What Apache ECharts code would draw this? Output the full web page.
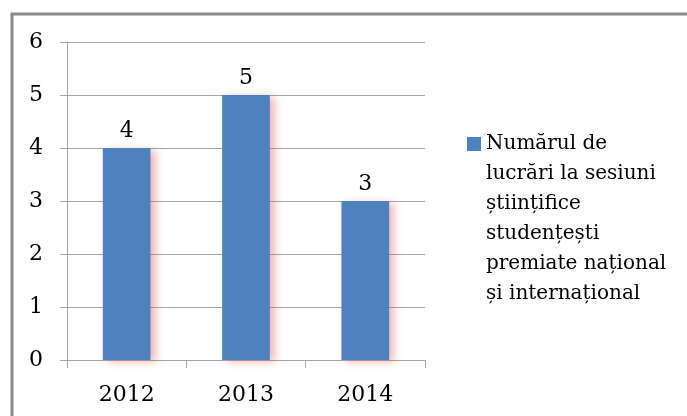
<!DOCTYPE html>
<html>
<head>
<meta charset="utf-8">
<script src="https://cdn.jsdelivr.net/npm/echarts@6/dist/echarts.min.js"></script>
<style>
  html, body { margin: 0; padding: 0; background: #ffffff; }
  #chart { width: 687px; height: 416px; }
</style>
</head>
<body>
<div id="chart"></div>
<script>
// Awarded student papers per year
const years = ['2012', '2013', '2014'];
const papers = [4, 5, 3];
const seriesName = 'Numărul de lucrări la sesiuni științifice studențești premiate național și internațional';
const legendLines = ['Numărul de', 'lucrări la sesiuni', 'științifice', 'studențești', 'premiate național', 'și internațional'];
const yTicks = [0, 1, 2, 3, 4, 5, 6];

const serif = '"DejaVu Serif", "Liberation Serif", serif';
const gridColor = '#a6a6a6';
const lineH = 30;

const chart = echarts.init(document.getElementById('chart'), null, { renderer: 'canvas' });

// Legend text is centred on the square; blank lines before it push the
// first real line level with the square.
const nLines = legendLines.length;
const lead = '\n'.repeat(nLines - 1);
const iconSize = 14;
const iconCenterY = 144;

chart.setOption({
  animation: false,
  backgroundColor: '#ffffff',
  grid: { left: 67, right: 262, top: 42, bottom: 56 },
  xAxis: {
    type: 'category',
    data: years,
    boundaryGap: true,
    axisLine: { show: true, lineStyle: { color: gridColor, width: 1 } },
    axisTick: { show: true, length: 8, alignWithLabel: false, lineStyle: { color: gridColor } },
    axisLabel: { color: '#000', fontFamily: serif, fontSize: 22, margin: 24 }
  },
  yAxis: {
    type: 'value',
    min: yTicks[0],
    max: yTicks[yTicks.length - 1],
    interval: 1,
    axisLine: { show: true, lineStyle: { color: gridColor, width: 1 } },
    axisTick: { show: true, length: 7, lineStyle: { color: gridColor } },
    splitLine: { show: true, lineStyle: { color: gridColor, width: 1 } },
    axisLabel: { color: '#000', fontFamily: serif, fontSize: 22, margin: 24 }
  },
  legend: {
    left: 467,
    top: iconCenterY - ((2 * nLines - 1) * lineH) / 2,
    padding: 0,
    orient: 'vertical',
    icon: 'rect',
    itemWidth: iconSize,
    itemHeight: iconSize,
    itemGap: 0,
    selectedMode: false,
    data: [seriesName],
    formatter: () => lead + legendLines.join('\n'),
    textStyle: {
      color: '#000',
      fontFamily: serif,
      fontSize: 20,
      lineHeight: lineH
    }
  },
  graphic: [{
    type: 'rect',
    shape: { x: 12, y: 14, width: 720, height: 440 },
    style: { fill: 'none', stroke: '#8a8a8a', lineWidth: 3 },
    silent: true
  }],
  series: [{
    name: seriesName,
    type: 'bar',
    data: papers,
    barWidth: '40%',
    itemStyle: {
      color: '#4f81bd',
      shadowColor: 'rgba(210, 80, 80, 0.4)',
      shadowBlur: 8,
      shadowOffsetX: 5,
      shadowOffsetY: 2
    },
    label: {
      show: true,
      position: 'top',
      distance: 6,
      color: '#000',
      fontFamily: serif,
      fontSize: 22
    }
  }]
});
</script>
</body>
</html>
